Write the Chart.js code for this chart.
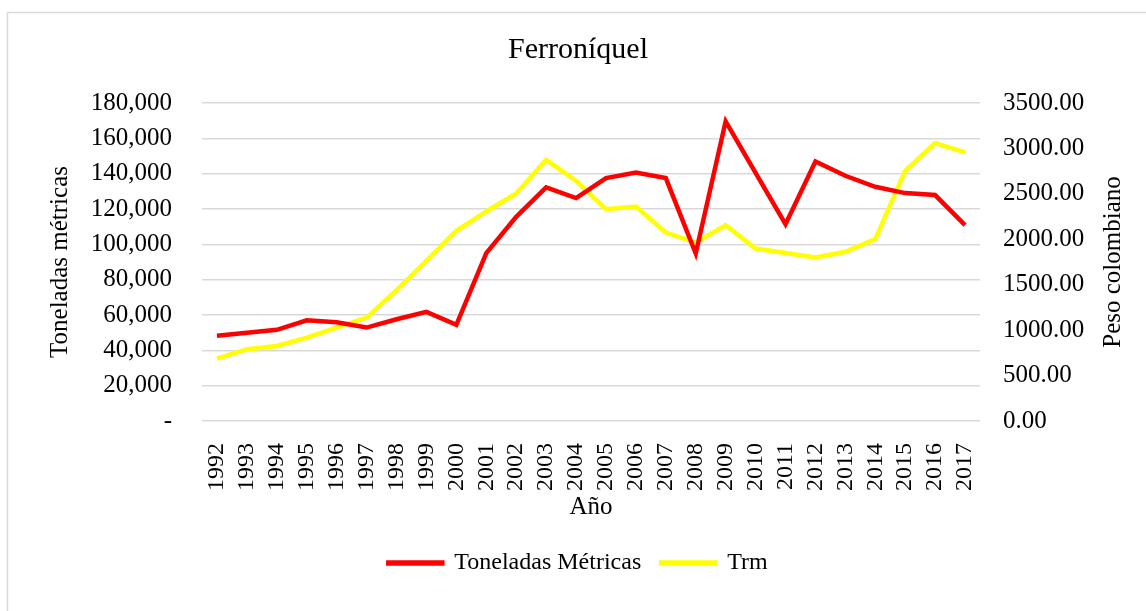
<!DOCTYPE html>
<html lang="es">
<head>
  <meta charset="UTF-8">
  <title>Ferroníquel</title>
  <style>
    body {
      margin: 0;
      background-color: white;
      overflow: hidden;
    }
  </style>
  <script src="https://cdn.jsdelivr.net/npm/chart.js"></script>
</head>
<body>
  <canvas id="ferroChart" width="1146" height="611"></canvas>

  <script>
    const years = ['1992', '1993', '1994', '1995', '1996', '1997', '1998', '1999', '2000', '2001',
      '2002', '2003', '2004', '2005', '2006', '2007', '2008', '2009', '2010', '2011',
      '2012', '2013', '2014', '2015', '2016', '2017'];

    // Toneladas métricas (left axis)
    const toneladas = [48200, 50000, 51600, 57000, 55900, 52900, 57600, 61800, 54400, 95000,
      115600, 132200, 126200, 137500, 140700, 137500, 94800, 169600, 140500, 111400,
      146900, 138800, 132600, 129000, 127900, 110900];

    // Trm, pesos colombianos (right axis)
    const trm = [686, 790, 826, 918, 1028, 1138, 1440, 1763, 2093, 2306,
      2504, 2875, 2644, 2332, 2361, 2074, 1964, 2156, 1898, 1848,
      1799, 1862, 2002, 2754, 3059, 2956];

    const leftTickLabels = ['-', '20,000', '40,000', '60,000', '80,000', '100,000',
      '120,000', '140,000', '160,000', '180,000'];
    const rightTickLabels = ['0.00', '500.00', '1000.00', '1500.00', '2000.00',
      '2500.00', '3000.00', '3500.00'];

    const serif = "'Liberation Serif', 'Times New Roman', serif";
    const gridColor = '#d9d9d9';

    // outer frame + right axis title (reads bottom-to-top like the original)
    const framePlugin = {
      id: 'frame',
      beforeDraw(chart) {
        const c = chart.ctx;
        c.save();
        c.fillStyle = 'white';
        c.fillRect(0, 0, chart.width, chart.height);
        c.strokeStyle = gridColor;
        c.lineWidth = 1.5;
        c.beginPath();
        c.moveTo(7.5, chart.height);
        c.lineTo(7.5, 12.5);
        c.lineTo(chart.width, 12.5);
        c.stroke();
        c.restore();
      },
      afterDraw(chart) {
        const area = chart.chartArea;
        const c = chart.ctx;
        c.save();
        c.translate(1113, (area.top + area.bottom) / 2);
        c.rotate(-Math.PI / 2);
        c.font = '25px ' + serif;
        c.fillStyle = '#000';
        c.textAlign = 'center';
        c.textBaseline = 'middle';
        c.fillText('Peso colombiano', 0, 0);
        c.restore();
      }
    };

    const ctx = document.getElementById('ferroChart').getContext('2d');
    const chart = new Chart(ctx, {
      type: 'line',
      data: {
        labels: years,
        datasets: [{
          label: 'Toneladas Métricas',
          data: toneladas,
          borderColor: '#ff0000',
          backgroundColor: '#ff0000',
          borderWidth: 4.5,
          pointRadius: 0,
          tension: 0,
          yAxisID: 'y'
        }, {
          label: 'Trm',
          data: trm,
          borderColor: '#ffff00',
          backgroundColor: '#ffff00',
          borderWidth: 4.5,
          pointRadius: 0,
          tension: 0,
          yAxisID: 'y1'
        }]
      },
      options: {
        responsive: false,
        animation: false,
        layout: {
          padding: { left: 10, right: 0, top: 0, bottom: 26 }
        },
        scales: {
          x: {
            offset: true,
            afterFit: (scale) => { scale.height = 110; },
            grid: { display: false },
            border: { display: false },
            ticks: {
              color: '#000',
              font: { family: serif, size: 24 },
              minRotation: 90,
              maxRotation: 90,
              padding: 14,
              autoSkip: false
            },
            title: {
              display: true,
              text: 'Año',
              color: '#000',
              font: { family: serif, size: 25 },
              padding: { top: 0, bottom: 9 }
            }
          },
          y: {
            position: 'left',
            min: 0,
            max: 180000,
            afterFit: (scale) => { scale.width = 192; },
            grid: { color: gridColor, lineWidth: 1.5, drawTicks: false },
            border: { display: false },
            ticks: {
              stepSize: 20000,
              color: '#000',
              font: { family: serif, size: 25 },
              padding: 30,
              callback: (v, i) => leftTickLabels[i]
            },
            title: {
              display: true,
              text: 'Toneladas métricas',
              color: '#000',
              font: { family: serif, size: 25 },
              padding: { top: 35, bottom: 0 }
            }
          },
          y1: {
            position: 'right',
            min: 0,
            max: 3500,
            afterFit: (scale) => { scale.width = 166; },
            grid: { display: false, drawTicks: false },
            border: { display: false },
            ticks: {
              stepSize: 500,
              color: '#000',
              font: { family: serif, size: 25 },
              padding: 23,
              callback: (v, i) => rightTickLabels[i]
            }
          }
        },
        plugins: {
          title: {
            display: true,
            text: 'Ferroníquel',
            color: '#000',
            font: { family: serif, size: 30, weight: 'normal' },
            padding: { top: 32, bottom: 35 }
          },
          legend: {
            position: 'bottom',
            labels: {
              color: '#000',
              font: { family: serif, size: 24 },
              boxWidth: 54,
              boxHeight: 1,
              padding: 20
            }
          },
          tooltip: { enabled: false }
        }
      },
      plugins: [framePlugin]
    });
  </script>
</body>
</html>
